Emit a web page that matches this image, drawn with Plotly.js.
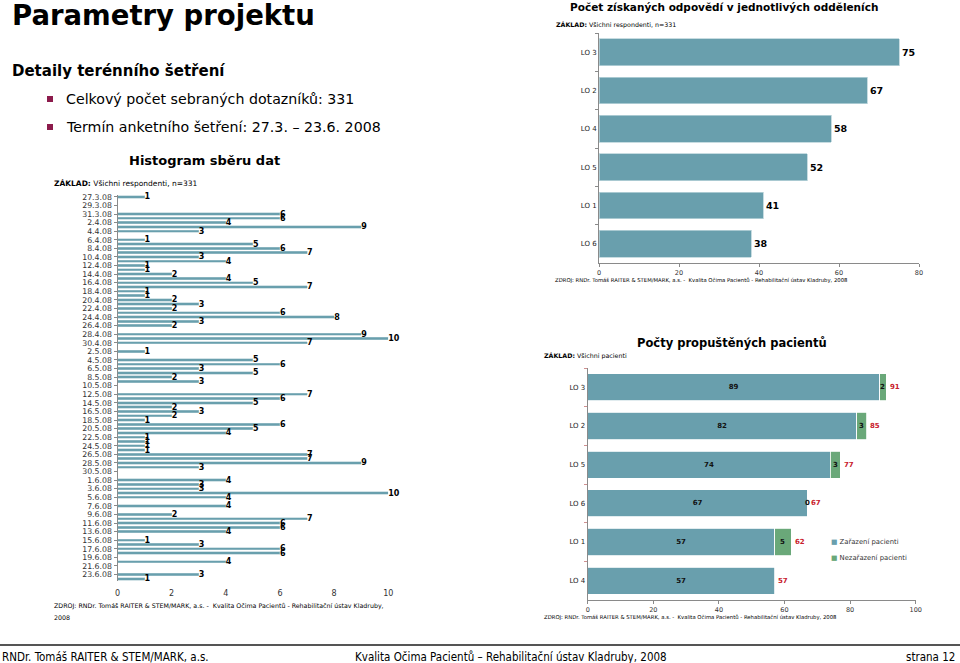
<!DOCTYPE html>
<html><head><meta charset="utf-8">
<script src="https://cdn.plot.ly/plotly-3.0.1.min.js"></script>
<style>html,body{margin:0;padding:0;background:#fff;overflow:hidden}#chart{width:960px;height:663px}</style>
</head><body><div id="chart"></div>
<script>
// ---------- DATA ----------
const dates = [
 '27.3.08','28.3.08','29.3.08','30.3.08','31.3.08',
 '1.4.08','2.4.08','3.4.08','4.4.08','5.4.08','6.4.08','7.4.08','8.4.08','9.4.08','10.4.08',
 '11.4.08','12.4.08','13.4.08','14.4.08','15.4.08','16.4.08','17.4.08','18.4.08','19.4.08','20.4.08',
 '21.4.08','22.4.08','23.4.08','24.4.08','25.4.08','26.4.08','27.4.08','28.4.08','29.4.08','30.4.08',
 '1.5.08','2.5.08','3.5.08','4.5.08','5.5.08','6.5.08','7.5.08','8.5.08','9.5.08','10.5.08',
 '11.5.08','12.5.08','13.5.08','14.5.08','15.5.08','16.5.08','17.5.08','18.5.08','19.5.08','20.5.08',
 '21.5.08','22.5.08','23.5.08','24.5.08','25.5.08','26.5.08','27.5.08','28.5.08','29.5.08','30.5.08','31.5.08',
 '1.6.08','2.6.08','3.6.08','4.6.08','5.6.08','6.6.08','7.6.08','8.6.08','9.6.08','10.6.08',
 '11.6.08','12.6.08','13.6.08','14.6.08','15.6.08','16.6.08','17.6.08','18.6.08','19.6.08','20.6.08',
 '21.6.08','22.6.08','23.6.08','24.6.08'
];
const dailyCounts = [
 1,0,0,0,6,
 6,4,9,3,0,1,5,6,7,3,
 4,1,1,2,4,5,7,1,1,2,
 3,2,6,8,3,2,0,9,10,7,
 0,1,0,5,6,3,5,2,3,0,
 0,7,6,5,2,3,2,1,6,5,
 4,1,1,1,1,7,7,9,3,0,0,
 4,3,3,10,4,0,4,0,2,7,
 6,6,4,0,1,3,6,6,0,4,
 0,0,3,1
];
const histTicks = [0,2,4,6,8,10];

const deptNames = ['LO 3','LO 2','LO 4','LO 5','LO 1','LO 6'];
const deptResponses = [75,67,58,52,41,38];
const respTicks = [0,20,40,60,80];

const dischargeDepts = ['LO 3','LO 2','LO 5','LO 6','LO 1','LO 4'];
const included = [89,82,74,67,57,57];
const notIncluded = [2,3,3,0,5,null];
const dischargeTicks = [0,20,40,60,80,100];
const seriesNames = ['Zařazení pacienti','Nezařazení pacienti'];

// ---------- STYLE ----------
const W = 960, H = 663;
const px = x => x / W;
const py = y => 1 - y / H;
const FONT = 'DejaVu Sans, Verdana, sans-serif';
const TEAL = '#699fad';
const GREEN = '#6aa879';
const RED = '#c8202c';
const AX = '#8a8a8a';

const traces = [
 {
  type:'bar', orientation:'h', x: dailyCounts, y: dates, xaxis:'x', yaxis:'y',
  marker:{color:TEAL, line:{color:'#a8c7cf', width:0.5}}, width:0.55,
  text: dailyCounts.map(v => v > 0 ? String(v) : ''),
  textposition:'outside', constraintext:'none', cliponaxis:false,
  textfont:{family:FONT, size:8, color:'#000', weight:'bold'},
  hoverinfo:'none'
 },
 {
  type:'bar', orientation:'h', x: deptResponses, y: deptNames, xaxis:'x2', yaxis:'y2',
  marker:{color:TEAL, line:{color:'#b9d3da', width:0.8}}, width:0.7,
  text: deptResponses.map(String), textposition:'outside', constraintext:'none', cliponaxis:false,
  textfont:{family:FONT, size:9.5, color:'#000', weight:'bold'},
  hoverinfo:'none'
 },
 {
  type:'bar', orientation:'h', x: included, y: dischargeDepts, xaxis:'x3', yaxis:'y3',
  name: seriesNames[0],
  marker:{color:TEAL, line:{color:'#ffffff', width:0.8}}, width:0.7,
  text: included.map(String), textposition:'inside', insidetextanchor:'middle', constraintext:'none',
  textfont:{family:FONT, size:7, color:'#111', weight:'bold'},
  hoverinfo:'none'
 },
 {
  type:'bar', orientation:'h', x: notIncluded, y: dischargeDepts, xaxis:'x3', yaxis:'y3',
  name: seriesNames[1],
  marker:{color:GREEN, line:{color:'#ffffff', width:0.8}}, width:0.7,
  hoverinfo:'none'
 }
];

const ann = [];
function txt(text, x, y, size, opts) {
 opts = opts || {};
 ann.push(Object.assign({
  text, x: px(x), y: py(y), xref:'paper', yref:'paper', showarrow:false,
  xanchor:'left', yanchor:'middle',
  font:{family:FONT, size, color:'#000'}
 }, opts));
}
txt('<b>Parametry projektu</b>', 10, 15, 27.5);
txt('<b>Detaily terénního šetření</b>', 10, 71, 15);
txt('Celkový počet sebraných dotazníků: 331', 64, 99, 14.2);
txt('Termín anketního šetření: 27.3. – 23.6. 2008', 64, 127, 14.2);
txt('<b>Histogram sběru dat</b>', 204, 160, 13, {xanchor:'center'});
txt('<b>ZÁKLAD:</b> Všichni respondenti, n=331', 52, 183, 7.5);
txt('ZDROJ: RNDr. Tomáš RAITER &amp; STEM/MARK, a.s. -  Kvalita Očima Pacientů - Rehabilitační ústav Kladruby,', 52, 606, 6.3);
txt('2008', 52, 617, 6.3);

txt('<b>Počet získaných odpovědí v jednotlivých odděleních</b>', 724, 7, 10.5, {xanchor:'center'});
txt('<b>ZÁKLAD:</b> Všichni respondenti, n=331', 554, 25, 6.3);
txt('ZDROJ: RNDr. Tomáš RAITER &amp; STEM/MARK, a.s. -  Kvalita Očima Pacientů - Rehabilitační ústav Kladruby, 2008', 553, 280, 5.3);

txt('<b>Počty propuštěných pacientů</b>', 732, 343, 11.5, {xanchor:'center'});
txt('<b>ZÁKLAD:</b> Všichni pacienti', 542, 356, 6.3);
txt('ZDROJ: RNDr. Tomáš RAITER &amp; STEM/MARK, a.s. -  Kvalita Očima Pacientů - Rehabilitační ústav Kladruby, 2008', 542, 617, 5.3);

txt('<span style="color:' + TEAL + '">■</span> ' + seriesNames[0], 829, 542, 6.8, {font:{family:FONT,size:6.8,color:'#333'}});
txt('<span style="color:' + GREEN + '">■</span> ' + seriesNames[1], 829, 558, 6.8, {font:{family:FONT,size:6.8,color:'#333'}});

const FFONT = 'DejaVu Sans Condensed, Tahoma, sans-serif';
txt('RNDr. Tomáš RAITER &amp; STEM/MARK, a.s.', 0, 657, 11.5, {font:{family:FFONT,size:11.5,color:'#000'}});
txt('Kvalita Očima Pacientů – Rehabilitační ústav Kladruby, 2008', 353, 657, 11.5, {font:{family:FFONT,size:11.5,color:'#000'}});
txt('strana 12', 957, 657, 11.5, {xanchor:'right', font:{family:FFONT,size:11.5,color:'#000'}});

// labels for the not-included segment and totals (positioned with the chart's own axes)
dischargeDepts.forEach((d, i) => {
 const ni = notIncluded[i];
 if (ni !== null) {
  ann.push({text:'<b>' + ni + '</b>', x: included[i] + ni / 2, y: d, xref:'x3', yref:'y3',
   showarrow:false, xanchor:'center', yanchor:'middle', font:{family:FONT, size:7, color:'#111'}});
 }
 ann.push({text:'<b>' + (included[i] + (ni || 0)) + '</b>', x: included[i] + (ni || 0), y: d,
  xref:'x3', yref:'y3', showarrow:false, xanchor:'left', yanchor:'middle', xshift:1.5,
  font:{family:FONT, size:7, color:RED}});
});

const shapes = [
 {type:'rect', xref:'paper', yref:'paper', x0:px(47), x1:px(53), y0:py(102), y1:py(96), fillcolor:'#8c1b4c', line:{width:0}},
 {type:'rect', xref:'paper', yref:'paper', x0:px(47), x1:px(53), y0:py(130), y1:py(124), fillcolor:'#8c1b4c', line:{width:0}},
 {type:'line', xref:'paper', yref:'paper', x0:0, x1:1, y0:py(645), y1:py(645), line:{color:'#555', width:2}}
];

const layout = {
 width: W, height: H, margin:{l:0,r:0,t:0,b:0}, paper_bgcolor:'#fff', plot_bgcolor:'rgba(0,0,0,0)',
 showlegend:false, barmode:'stack', font:{family:FONT, color:'#333'},
 xaxis:{domain:[px(117.5), px(388.3)], anchor:'y', range:[0,10], tickmode:'array', tickvals:histTicks,
  showline:false, showgrid:false, zeroline:false, ticks:'', ticklabelstandoff:6, tickfont:{size:8, color:'#333'}},
 yaxis:{domain:[py(581), py(194.7)], anchor:'x', type:'category', categoryorder:'array', categoryarray:dates,
  range:[dates.length - 0.5, -0.5], tickmode:'array', tickvals:dates.filter((d,i)=>i%2===0),
  showline:true, linecolor:AX, linewidth:1, ticks:'outside', ticklen:3, tickcolor:AX,
  showgrid:false, zeroline:false, tickfont:{size:7.8, color:'#333'}},
 xaxis2:{domain:[px(599), px(919)], anchor:'y2', range:[0,80], tickmode:'array', tickvals:respTicks,
  showline:true, linecolor:AX, ticks:'outside', ticklen:3, tickcolor:AX,
  showgrid:false, zeroline:false, tickfont:{size:6.5, color:'#333'}},
 yaxis2:{domain:[py(263), py(33)], anchor:'x2', type:'category', categoryorder:'array', categoryarray:deptNames,
  range:[deptNames.length - 0.5, -0.5], showline:true, linecolor:AX, ticks:'outside', ticklen:3, tickcolor:AX,
  tickson:'boundaries', showgrid:false, zeroline:false, tickfont:{size:7, color:'#222'}},
 xaxis3:{domain:[px(587.7), px(915.7)], anchor:'y3', range:[0,100], tickmode:'array', tickvals:dischargeTicks,
  showline:true, linecolor:AX, ticks:'outside', ticklen:3, tickcolor:AX,
  showgrid:false, zeroline:false, tickfont:{size:6.5, color:'#333'}},
 yaxis3:{domain:[py(600), py(368)], anchor:'x3', type:'category', categoryorder:'array', categoryarray:dischargeDepts,
  range:[dischargeDepts.length - 0.5, -0.5], showline:true, linecolor:AX, ticks:'outside', ticklen:3, tickcolor:'#d09090',
  tickson:'boundaries', showgrid:false, zeroline:false, tickfont:{size:7, color:'#222'}},
 annotations: ann,
 shapes: shapes
};

Plotly.newPlot('chart', traces, layout, {staticPlot:true, displayModeBar:false});
</script>
</body></html>
